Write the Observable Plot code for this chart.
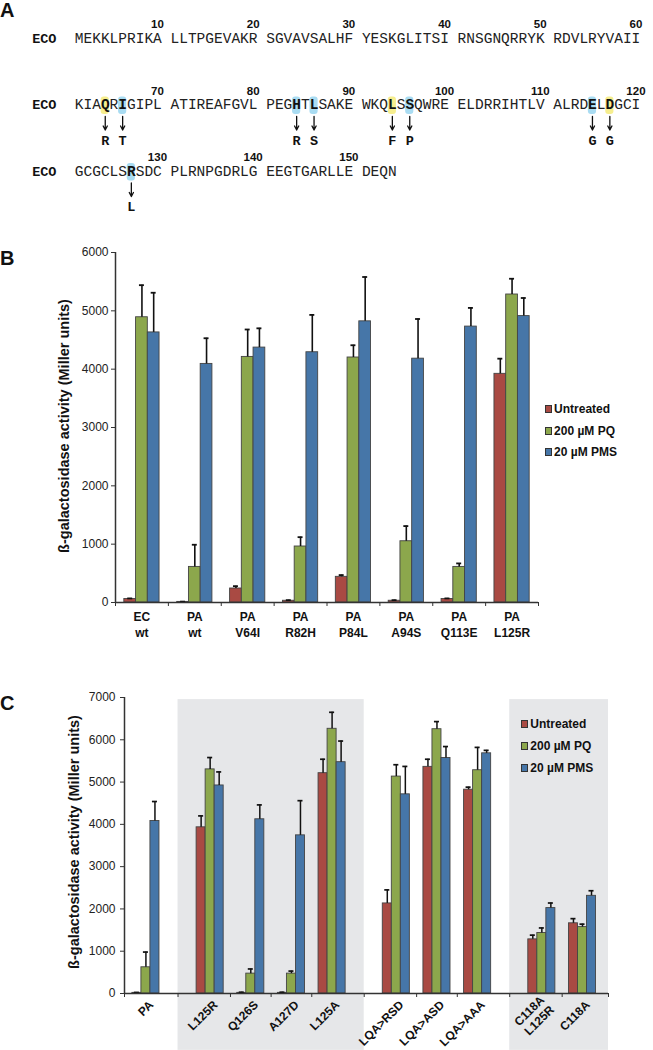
<!DOCTYPE html>
<html><head><meta charset="utf-8">
<script src="https://cdn.jsdelivr.net/npm/d3@7"></script>
<script src="https://cdn.jsdelivr.net/npm/@observablehq/plot@0.6"></script>
<style>
html,body{margin:0;padding:0;background:#fff;}
body{width:653px;height:1050px;position:relative;overflow:hidden;font-family:"Liberation Sans",Arial,sans-serif;color:#111;}
.panel{position:absolute;left:0;}
.plabel{position:absolute;left:0;font-weight:bold;font-size:20px;line-height:20px;}
.leg{position:absolute;font-weight:bold;font-size:12px;line-height:14px;white-space:nowrap;color:#111;}
.sw{position:absolute;width:5px;height:6px;border:1px solid #333;}
.ytitle{position:absolute;font-weight:bold;font-size:14.5px;line-height:1;white-space:nowrap;color:#111;
  transform:translate(-50%,-50%) rotate(-90deg);transform-origin:center center;}
</style></head><body>
<div id="A" class="panel" style="top:0"></div>
<div id="B" class="panel" style="top:230px"></div>
<div id="C" class="panel" style="top:660px"></div>
<div class="plabel" style="top:0px">A</div>
<div class="plabel" style="top:248px">B</div>
<div class="plabel" style="top:693px">C</div>
<script>
// ---------------- Panel A data ----------------
const seqName = "ECO";
const seqLines = [
  "MEKKLPRIKALLTPGEVAKRSGVAVSALHFYESKGLITSIRNSGNQRRYKRDVLRYVAII",
  "KIAQRIGIPLATIREAFGVLPEGHTLSAKEWKQLSSQWREELDRRIHTLVALRDELDGCI",
  "GCGCLSRSDCPLRNPGDRLGEEGTGARLLEDEQN"
];
const lineStart = [1, 61, 121];
const mutResidues = [64, 66, 84, 86, 94, 96, 115, 117, 127];
const mutHighlight = ["yellow", "blue", "blue", "blue", "yellow", "blue", "blue", "yellow", "blue"];
const mutTo = ["R", "T", "R", "S", "F", "P", "G", "G", "L"];

// ---------------- Panel B data ----------------
const seriesNames = ["Untreated", "200 \u00B5M PQ", "20 \u00B5M PMS"];
const bGroups = ["EC\nwt", "PA\nwt", "PA\nV64I", "PA\nR82H", "PA\nP84L", "PA\nA94S", "PA\nQ113E", "PA\nL125R"];
const bUntreated    = [60, 10, 240, 30, 440, 30, 60, 3920];
const bUntreatedErr = [10, 5, 40, 10, 30, 10, 10, 260];
const bPQ           = [4890, 610, 4210, 960, 4200, 1050, 610, 5280];
const bPQErr        = [550, 380, 470, 160, 210, 260, 60, 270];
const bPMS          = [4630, 4090, 4370, 4290, 4820, 4180, 4730, 4910];
const bPMSErr       = [680, 440, 330, 640, 760, 680, 320, 310];
const bYTicks = [0, 1000, 2000, 3000, 4000, 5000, 6000];

// ---------------- Panel C data ----------------
const cGroups = ["PA", "L125R", "Q126S", "A127D", "L125A", "LQA>RSD", "LQA>ASD", "LQA>AAA", "C118A\nL125R", "C118A"];
const cCluster = [0, 1, 1, 1, 1, 2, 2, 2, 3, 3];
const cShaded = [1, 3];
const cUntreated    = [15, 3930, 15, 15, 5210, 2130, 5360, 4820, 1280, 1660];
const cUntreatedErr = [10, 270, 15, 15, 330, 320, 180, 60, 100, 110];
const cPQ           = [620, 5300, 470, 470, 6260, 5130, 6250, 5280, 1430, 1570];
const cPQErr        = [360, 280, 110, 60, 390, 280, 180, 540, 120, 70];
const cPMS          = [4080, 4920, 4120, 3740, 5470, 4710, 5570, 5680, 2020, 2310];
const cPMSErr       = [460, 320, 340, 820, 500, 660, 270, 70, 120, 120];
const cYTicks = [0, 1000, 2000, 3000, 4000, 5000, 6000, 7000];

const yTitle = "\u00DF-galactosidase activity (Miller units)";

// ---------------- styles ----------------
const colors = ["#A94A43", "#8CA74C", "#4676A8"];
const hiColors = {yellow: "#F6EE8E", blue: "#A9DCF2"};
const sans = "Liberation Sans, Arial, sans-serif";
const mono = "Liberation Mono, Courier New, monospace";
const axisColor = "#333";
const BW = 0.222;      // bar width as fraction of category step
const GAP = 0.58;      // extra gap between clusters in panel C

// ================= Panel A =================
const residues = [];
seqLines.forEach((s, r) => {
  for (let i = 0; i < s.length; i++) {
    const num = lineStart[r] + i;
    residues.push({row: r, col: i + Math.floor(i / 10), ch: s[i], num, mut: mutResidues.includes(num)});
  }
});
const muts = mutResidues.map((num, k) => {
  const res = residues.find(d => d.num === num);
  return {row: res.row, col: res.col, to: mutTo[k], hi: mutHighlight[k]};
});
const numbers = residues.filter(d => d.num % 10 === 0).map(d => ({row: d.row, col: d.col, label: String(d.num)}));
const ROWPX = 66.5;

const plotA = Plot.plot({
  width: 653, height: 225, margin: 0,
  x: {domain: [0, 65], range: [74.3, 639.8], axis: null},
  y: {domain: [0, 2], range: [42, 175], axis: null},
  style: {fontFamily: sans, background: "transparent", overflow: "visible"},
  marks: [
    Plot.rect(muts, {x1: d => d.col + 0.03, x2: d => d.col + 0.97, y1: d => d.row - 12 / ROWPX, y2: d => d.row + 5.5 / ROWPX, fill: d => hiColors[d.hi], rx: 3}),
    Plot.text(residues.filter(d => !d.mut), {x: d => d.col + 0.5, y: "row", text: "ch", lineAnchor: "bottom", fontFamily: mono, fontSize: 14.5, fill: "#222"}),
    Plot.text(residues.filter(d => d.mut), {x: d => d.col + 0.5, y: "row", text: "ch", lineAnchor: "bottom", fontFamily: mono, fontSize: 14.5, fontWeight: "bold", fill: "#111"}),
    Plot.text([0, 1, 2], {x: -4.9, y: d => d, text: () => seqName, textAnchor: "start", lineAnchor: "bottom", fontFamily: mono, fontSize: 13.5, fontWeight: "bold", fill: "#111"}),
    Plot.text(numbers, {x: d => d.col + 0.5, y: "row", dy: -14.5, text: "label", lineAnchor: "bottom", fontFamily: sans, fontSize: 11.5, fontWeight: "bold", fill: "#111"}),
    Plot.arrow(muts, {x1: d => d.col + 0.5, x2: d => d.col + 0.5, y1: d => d.row + 7.5 / ROWPX, y2: d => d.row + 21 / ROWPX, stroke: "#111", strokeWidth: 1.3, headLength: 6, headAngle: 55}),
    Plot.text(muts, {x: d => d.col + 0.5, y: "row", dy: 35.5, text: "to", lineAnchor: "bottom", fontFamily: mono, fontSize: 13.5, fontWeight: "bold", fill: "#111"})
  ]
});
document.getElementById("A").appendChild(plotA);

// ================= helpers =================
function makeBars(positions, series, errs) {
  const out = [];
  positions.forEach((p, i) => {
    series.forEach((vals, s) => {
      out.push({pos: p, s, value: vals[i], top: vals[i] + errs[s][i]});
    });
  });
  return out;
}

// ================= Panel B =================
const bPos = bGroups.map((g, i) => i);
const barsB = makeBars(bPos, [bUntreated, bPQ, bPMS], [bUntreatedErr, bPQErr, bPMSErr]);
const bBounds = d3.range(bGroups.length + 1).map(i => i - 0.5);
const capB = 0.047;

const plotB = Plot.plot({
  width: 653, height: 420, marginTop: 22, marginBottom: 48, marginLeft: 115, marginRight: 115,
  x: {domain: [-0.5, bGroups.length - 0.5]},
  y: {domain: [0, 6000]},
  style: {fontFamily: sans, background: "transparent", overflow: "visible"},
  marks: [
    Plot.rectY(barsB, {x1: d => d.pos + (d.s - 1.5) * BW, x2: d => d.pos + (d.s - 0.5) * BW, y1: 0, y2: "value", fill: d => colors[d.s], stroke: "#444", strokeWidth: 0.9}),
    Plot.ruleX(barsB, {x: d => d.pos + (d.s - 1) * BW, y1: "value", y2: "top", stroke: "#111", strokeWidth: 1.6}),
    Plot.ruleY(barsB, {y: "top", x1: d => d.pos + (d.s - 1) * BW - capB, x2: d => d.pos + (d.s - 1) * BW + capB, stroke: "#111", strokeWidth: 1.8}),
    Plot.ruleY([0], {stroke: axisColor, strokeWidth: 1.5}),
    Plot.ruleX([-0.5], {stroke: axisColor, strokeWidth: 1.5}),
    Plot.axisY({ticks: bYTicks, tickSize: 4, tickPadding: 3, fontSize: 12, label: null, stroke: axisColor, fill: "#222", tickFormat: d => String(d)}),
    Plot.axisX({ticks: bBounds, tickSize: 4, tickFormat: () => "", label: null, stroke: axisColor}),
    Plot.text(bGroups, {x: (d, i) => bPos[i], text: d => d, frameAnchor: "bottom", lineAnchor: "top", dy: 7.5, lineHeight: 1.333, fontSize: 12, fontWeight: "bold", fill: "#111"})
  ]
});
document.getElementById("B").appendChild(plotB);

// ================= Panel C =================
const cPos = cGroups.map((g, i) => i + GAP * cCluster[i]);
const barsC = makeBars(cPos, [cUntreated, cPQ, cPMS], [cUntreatedErr, cPQErr, cPMSErr]);
const cDomain = [cPos[0] - 0.527, cPos[cPos.length - 1] + 0.64];
const cBounds = [cDomain[0]].concat(cPos.slice(1).map((p, i) => (p + cPos[i]) / 2), [cDomain[1]]);
const boxes = cShaded.map(c => {
  const idx = cCluster.map((k, i) => k === c ? i : -1).filter(i => i >= 0);
  const first = idx[0], last = idx[idx.length - 1];
  const left = first > 0 ? (cPos[first] + cPos[first - 1]) / 2 : cDomain[0];
  const right = last < cPos.length - 1 ? (cPos[last] + cPos[last + 1]) / 2 : cDomain[1];
  return {x1: left, x2: right};
});
const capC = 0.062;

const plotC = Plot.plot({
  width: 653, height: 390, marginTop: 37, marginBottom: 57, marginLeft: 124, marginRight: 45,
  x: {domain: cDomain},
  y: {domain: [0, 7000]},
  style: {fontFamily: sans, background: "transparent", overflow: "visible"},
  marks: [
    Plot.rect(boxes, {x1: "x1", x2: "x2", y1: -1345, y2: 6950, fill: "#E6E7E9"}),
    Plot.rectY(barsC, {x1: d => d.pos + (d.s - 1.5) * BW, x2: d => d.pos + (d.s - 0.5) * BW, y1: 0, y2: "value", fill: d => colors[d.s], stroke: "#444", strokeWidth: 0.9}),
    Plot.ruleX(barsC, {x: d => d.pos + (d.s - 1) * BW, y1: "value", y2: "top", stroke: "#111", strokeWidth: 1.5}),
    Plot.ruleY(barsC, {y: "top", x1: d => d.pos + (d.s - 1) * BW - capC, x2: d => d.pos + (d.s - 1) * BW + capC, stroke: "#111", strokeWidth: 1.7}),
    Plot.ruleY([0], {stroke: axisColor, strokeWidth: 1.5}),
    Plot.ruleX([cDomain[0]], {stroke: axisColor, strokeWidth: 1.5}),
    Plot.axisY({ticks: cYTicks, tickSize: 4, tickPadding: 5, fontSize: 12, label: null, stroke: axisColor, fill: "#222", tickFormat: d => String(d)}),
    Plot.axisX({ticks: cBounds, tickSize: 4, tickFormat: () => "", label: null, stroke: axisColor}),
    Plot.text(cGroups, {x: (d, i) => cPos[i], text: d => d, frameAnchor: "bottom", rotate: -45, textAnchor: "end", lineAnchor: "middle", dx: 5, dy: 9, lineHeight: 1.15, fontSize: 12, fontWeight: "bold", fill: "#111"})
  ]
});
document.getElementById("C").appendChild(plotC);

// ================= Axis titles (rotated) =================
function yTitleAt(cx, cy) {
  const t = document.createElement("div");
  t.className = "ytitle";
  t.textContent = yTitle;
  t.style.left = cx + "px";
  t.style.top = cy + "px";
  document.body.appendChild(t);
}
yTitleAt(64, 426);
yTitleAt(74, 842);

// ================= Legends =================
function legend(left, centers) {
  seriesNames.forEach((name, s) => {
    const sw = document.createElement("div");
    sw.className = "sw";
    sw.style.left = left + "px";
    sw.style.top = (centers[s] - 4) + "px";
    sw.style.background = colors[s];
    document.body.appendChild(sw);
    const t = document.createElement("div");
    t.className = "leg";
    t.textContent = name;
    t.style.left = (left + 9.5) + "px";
    t.style.top = (centers[s] - 7) + "px";
    document.body.appendChild(t);
  });
}
legend(544.6, [409.3, 431, 452.3]);
legend(520.8, [724, 746, 767.7]);
</script>
</body></html>
